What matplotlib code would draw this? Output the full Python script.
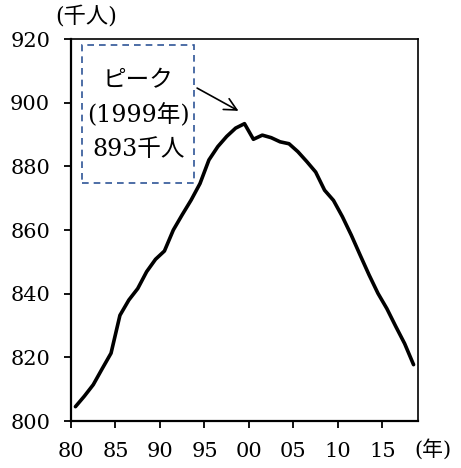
import matplotlib
matplotlib.use("Agg")
import matplotlib.pyplot as plt
from matplotlib.patches import Rectangle

plt.rcParams['font.family'] = ['DejaVu Serif', 'Noto Sans CJK JP']

# data (thousand people)
years = list(range(1980, 2019))
values = [804.5, 807.8, 811.4, 816.4, 821.3, 833.2, 838.0, 841.6, 846.9, 850.8,
          853.4, 860.0, 864.8, 869.4, 874.6, 882.0, 886.2, 889.4, 892.0, 893.4,
          888.5, 889.8, 889.0, 887.7, 887.1, 884.6, 881.5, 878.2, 872.5, 869.3,
          864.2, 858.4, 852.1, 845.9, 840.1, 835.3, 829.7, 824.3, 817.7]
tick_years = [1980, 1985, 1990, 1995, 2000, 2005, 2010, 2015]
tick_labels = ['80', '85', '90', '95', '00', '05', '10', '15']
peak_text = 'ピーク\n(1999年)\n893千人'

fig = plt.figure(figsize=(4.61, 4.68), dpi=100)
ax = fig.add_axes([71/461, 1 - 421/468, (418-71)/461, (421-39)/468])

ax.plot([y + 0.5 for y in years], values, color='black', lw=2.6,
        solid_joinstyle='round', solid_capstyle='round')

ax.set_xlim(1980, 2019)
ax.set_ylim(800, 920)
ax.set_xticks(tick_years)
ax.set_xticklabels(tick_labels)
ax.set_yticks(range(800, 921, 20))
ax.tick_params(direction='out', length=5, width=1.3, labelsize=15, pad=10)
ax.tick_params(top=False, right=False)
for s in ['left', 'bottom']:
    ax.spines[s].set_linewidth(1.6)
for s in ['top', 'right']:
    ax.spines[s].set_linewidth(1.2)

# peak annotation box
ax.add_patch(Rectangle((1981.25, 874.8), 12.6, 43.3, fill=False,
                       edgecolor='#2F5597', lw=1.2, ls=(0, (4, 3))))
ax.text(1987.55, 896.0, peak_text, ha='center', va='center', fontsize=17,
        linespacing=1.6)
ax.annotate('', xy=(1999.1, 897.0), xytext=(1993.9, 905.0),
            arrowprops=dict(arrowstyle='->', color='black', lw=1.2,
                            mutation_scale=22))

fig.text(86/461, 1 - 16/468, '(千人)', ha='center', va='center', fontsize=16)
fig.text(414/461, 1 - 449/468, '(年)', ha='left', va='center', fontsize=15)

fig.savefig('out.png', dpi=100)
